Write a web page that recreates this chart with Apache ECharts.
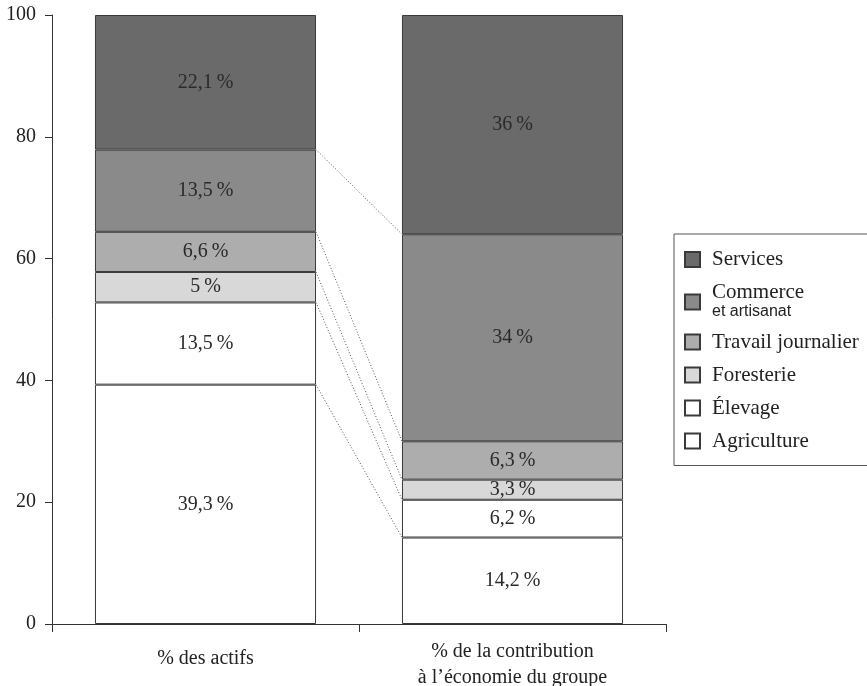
<!DOCTYPE html>
<html>
<head>
<meta charset="utf-8">
<script src="https://cdn.jsdelivr.net/npm/echarts@6/dist/echarts.min.js"></script>
<style>
  html, body { margin: 0; padding: 0; background: #fff; }
  #chart { width: 867px; height: 686px; }
</style>
</head>
<body>
<div id="chart"></div>
<script>
// Répartition des actifs et contribution à l'économie du groupe, par activité
const categories = ['% des actifs', '% de la contribution\nà l\u2019économie du groupe'];
const activities = ['Agriculture', 'Élevage', 'Foresterie', 'Travail journalier', 'Commerce et artisanat', 'Services'];
const agriculture = [39.3, 14.2];
const elevage = [13.5, 6.2];
const foresterie = [5, 3.3];
const travailJournalier = [6.6, 6.3];
const commerce = [13.5, 34];
const services = [22.1, 36];
const yTicks = [0, 20, 40, 60, 80, 100];

const seriesValues = [agriculture, elevage, foresterie, travailJournalier, commerce, services];
const fills = ['#ffffff', '#ffffff', '#d8d8d8', '#adadad', '#8a8a8a', '#6a6a6a'];
const serif = '"Liberation Serif", "DejaVu Serif", serif';
const BAR_RATIO = 0.72;

const fmt = v => String(v).replace('.', ',') + '\u2009%';

const barSeries = activities.map((name, i) => ({
  name: name,
  type: 'bar',
  stack: 'total',
  barWidth: (BAR_RATIO * 100) + '%',
  data: seriesValues[i],
  itemStyle: { color: fills[i], borderColor: '#3a3a3a', borderWidth: 1 },
  label: {
    show: true,
    position: 'inside',
    formatter: p => fmt(p.value),
    fontFamily: serif,
    fontSize: 20,
    color: '#2a2a2a'
  }
}));

// Cumulative boundaries between stacked segments, joined by dotted lines
const connectors = [];
let accL = 0, accR = 0;
for (let i = 0; i < seriesValues.length - 1; i++) {
  accL += seriesValues[i][0];
  accR += seriesValues[i][1];
  connectors.push([0, +accL.toFixed(1), +accR.toFixed(1)]);
}

const connectorSeries = {
  type: 'custom',
  name: 'liaisons',
  silent: true,
  z: 1,
  encode: { x: 0, y: [1, 2] },
  data: connectors,
  renderItem: function (params, api) {
    const band = api.size([1, 0])[0];
    const half = band * BAR_RATIO / 2;
    const p0 = api.coord([0, api.value(1)]);
    const p1 = api.coord([1, api.value(2)]);
    return {
      type: 'line',
      shape: { x1: p0[0] + half, y1: p0[1], x2: p1[0] - half, y2: p1[1] },
      style: { stroke: '#555', lineWidth: 1, lineDash: [1, 2] }
    };
  }
};

const chart = echarts.init(document.getElementById('chart'));
chart.setOption({
  backgroundColor: '#ffffff',
  animation: false,
  grid: { left: 52, right: 201, top: 15, bottom: 62, outerBoundsMode: 'none', containLabel: false },
  legend: {
    orient: 'vertical',
    left: 674,
    top: 234,
    data: activities.slice().reverse(),
    icon: 'rect',
    itemWidth: 15,
    itemHeight: 15,
    itemGap: 12,
    padding: [15, 40, 14, 10],
    borderColor: '#555',
    borderWidth: 1,
    selectedMode: false,
    formatter: name => name === 'Commerce et artisanat'
      ? '{c|Commerce}\n{b|et artisanat}'
      : '{a|' + name + '}',
    textStyle: {
      color: '#222',
      rich: {
        a: { fontFamily: serif, fontSize: 21, lineHeight: 20, color: '#222', padding: [0, 0, 0, 7] },
        c: { fontFamily: serif, fontSize: 21, lineHeight: 19, color: '#222', padding: [0, 0, 0, 7] },
        b: { fontFamily: '"Liberation Sans", Arial, sans-serif', fontSize: 16, lineHeight: 19, color: '#222', padding: [0, 0, 0, 7] }
      }
    }
  },
  xAxis: {
    type: 'category',
    data: categories,
    axisLine: { lineStyle: { color: '#333', width: 1 } },
    axisTick: { show: true, length: 8, lineStyle: { color: '#333' } },
    axisLabel: {
      margin: 15,
      formatter: v => v.indexOf('\n') < 0 ? '{s|' + v + '}' : '{m|' + v.split('\n').join('}\n{m|') + '}',
      rich: {
        s: { fontFamily: serif, fontSize: 20, color: '#222', lineHeight: 26, padding: [13, 0, 0, 0] },
        m: { fontFamily: serif, fontSize: 20, color: '#222', lineHeight: 26 }
      }
    }
  },
  yAxis: {
    type: 'value',
    min: yTicks[0],
    max: yTicks[yTicks.length - 1],
    interval: yTicks[1] - yTicks[0],
    splitLine: { show: false },
    axisLine: { show: true, lineStyle: { color: '#333', width: 1 } },
    axisTick: { show: true, length: 7, lineStyle: { color: '#333' } },
    axisLabel: { fontFamily: serif, fontSize: 20, color: '#222', margin: 16 }
  },
  series: barSeries.concat([connectorSeries])
});
</script>
</body>
</html>
